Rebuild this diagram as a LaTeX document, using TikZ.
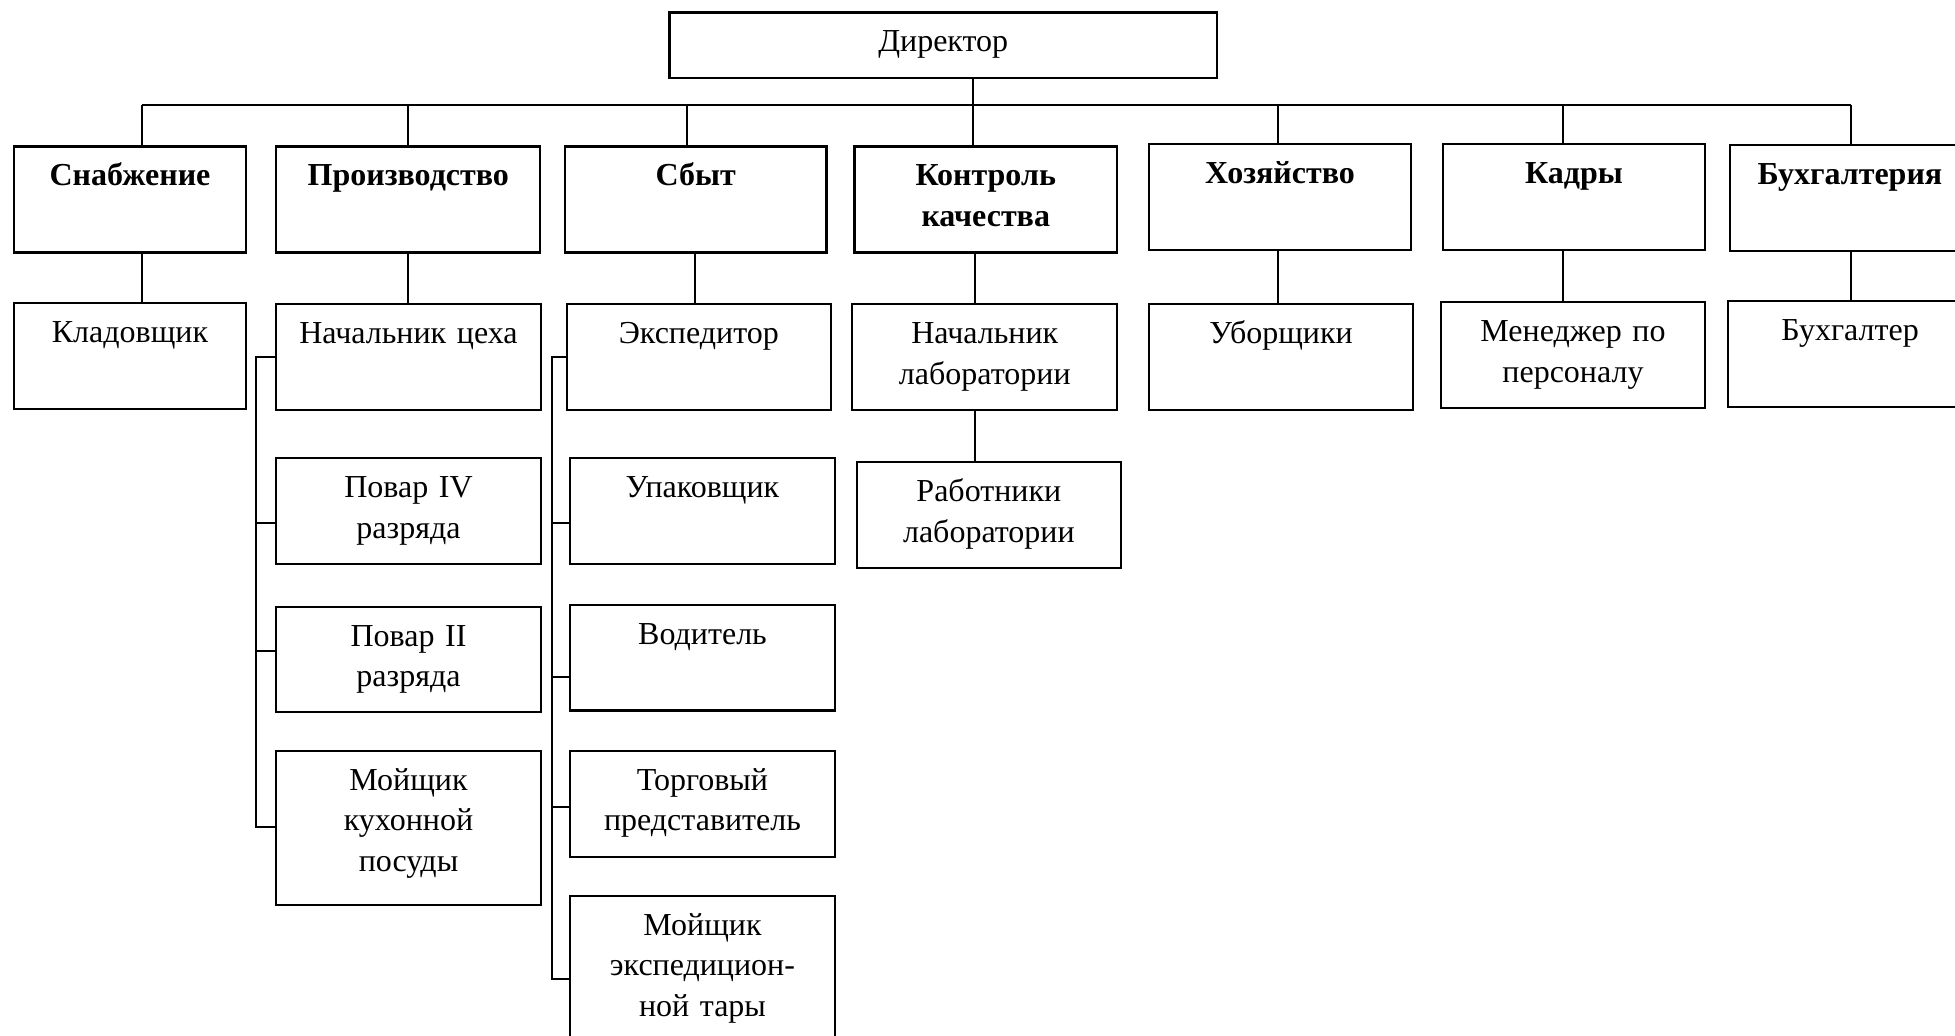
\documentclass[tikz,border=0pt]{standalone}
\usepackage{fontspec}
\setmainfont{Liberation Serif}
\usetikzlibrary{fit}

\begin{document}
\begin{tikzpicture}[x=1pt,y=-1pt,
	box/.style={draw, line width=2.2pt, inner sep=0pt},
	link/.style={line width=2pt},
	lbl/.style={anchor=base, align=center, inner sep=0pt, text width=240pt,
		font=\fontsize{32}{40.5}\selectfont},
	head/.style={lbl, font=\fontsize{32}{40.5}\selectfont\bfseries}]
	\useasboundingbox (0,0) rectangle (1955,1036);
	\clip (0,0) rectangle (1955,1036);

	\node[box, fit={(669.5,12.5) (1217,78)}] (dir) {};

	\node[box, fit={(13.7,146.5) (246.3,252.5)}] (snab) {};
	\node[box, fit={(276.3,146.5) (540.3,252.5)}] (proizv) {};
	\node[box, fit={(565,146.5) (826.5,252.5)}] (sbyt) {};
	\node[box, fit={(854.5,146.5) (1117,252.5)}] (kontrol) {};
	\node[box, fit={(1149,144.3) (1411,250.3)}] (khoz) {};
	\node[box, fit={(1442.7,144.3) (1705.3,250.3)}] (kadry) {};
	\node[box, fit={(1730,144.7) (1970,251)}] (bukh) {};

	\node[box, fit={(13.7,303) (246.3,409.3)}] (klad) {};
	\node[box, fit={(276.3,304.3) (540.7,410.3)}] (nachtseha) {};
	\node[box, fit={(566.7,304.3) (831,410.3)}] (eksp) {};
	\node[box, fit={(852.3,304.3) (1117.3,410.3)}] (nachlab) {};
	\node[box, fit={(1149,304.3) (1413,410.3)}] (uborsh) {};
	\node[box, fit={(1440.7,302.3) (1705.3,408.3)}] (menedzh) {};
	\node[box, fit={(1728.3,300.7) (1972,406.7)}] (buhg) {};

	\node[box, fit={(856.7,462.3) (1121,568.3)}] (rablab) {};

	\node[box, fit={(276.3,458.3) (540.7,564.3)}] (povar4) {};
	\node[box, fit={(276.3,606.7) (540.7,712.3)}] (povar2) {};
	\node[box, fit={(276.3,751) (540.7,905)}] (moysh1) {};

	\node[box, fit={(570.3,458.3) (834.7,564.3)}] (upak) {};
	\node[box, fit={(570.3,605) (834.7,710.5)}] (vodit) {};
	\node[box, fit={(570.3,751) (834.7,856.7)}] (torg) {};
	\node[box, fit={(570.3,895.7) (834.7,1100)}] (moysh2) {};

	\path
		([yshift=-40.5pt]dir.north)       node[lbl]  (dir-t) {Директор}
		([yshift=-40.5pt]snab.north)      node[head] (snab-t) {Снабжение}
		([yshift=-40.5pt]proizv.north)    node[head] (proizv-t) {Производство}
		([yshift=-40.5pt]sbyt.north)      node[head] (sbyt-t) {Сбыт}
		([yshift=-40.5pt]kontrol.north)   node[head] (kontrol-t) {Контроль\\качества}
		([yshift=-40.5pt]khoz.north)      node[head] (khoz-t) {Хозяйство}
		([yshift=-40.5pt]kadry.north)     node[head] (kadry-t) {Кадры}
		([yshift=-40.5pt]bukh.north)      node[head] (bukh-t) {Бухгалтерия}
		([yshift=-40.5pt]klad.north)      node[lbl]  (klad-t) {Кладовщик}
		([yshift=-40.5pt]nachtseha.north) node[lbl]  (nachtseha-t) {Начальник цеха}
		([yshift=-40.5pt]eksp.north)      node[lbl]  (eksp-t) {Экспедитор}
		([yshift=-40.5pt]nachlab.north)   node[lbl]  (nachlab-t) {Начальник\\лаборатории}
		([yshift=-40.5pt]uborsh.north)    node[lbl]  (uborsh-t) {Уборщики}
		([yshift=-40.5pt]menedzh.north)   node[lbl]  (menedzh-t) {Менеджер по\\персоналу}
		([yshift=-40.5pt]buhg.north)      node[lbl]  (buhg-t) {Бухгалтер}
		([yshift=-40.5pt]rablab.north)    node[lbl]  (rablab-t) {Работники\\лаборатории}
		([yshift=-40.5pt]povar4.north)    node[lbl]  (povar4-t) {Повар IV\\разряда}
		([yshift=-40.5pt]povar2.north)    node[lbl]  (povar2-t) {Повар II\\разряда}
		([yshift=-40.5pt]moysh1.north)    node[lbl]  (moysh1-t) {Мойщик\\кухонной\\посуды}
		([yshift=-40.5pt]upak.north)      node[lbl]  (upak-t) {Упаковщик}
		([yshift=-40.5pt]vodit.north)     node[lbl]  (vodit-t) {Водитель}
		([yshift=-40.5pt]torg.north)      node[lbl]  (torg-t) {Торговый\\представитель}
		([yshift=-40.5pt]moysh2.north)    node[lbl]  (moysh2-t) {Мойщик\\экспедицион-\\ной тары};

%	=======================================

	\coordinate (busL) at (142.3,105);
	\coordinate (busR) at (1850.7,105);
	\draw[link] (busL) -- (busR);
	\draw[link] (dir.south -| 972.5,0) -- (kontrol.north -| 972.5,0);

	\foreach \n/\x in {snab/142.3, proizv/408.3, sbyt/686.6, khoz/1278.3,
			kadry/1563, bukh/1850.7}
		\draw[link] (busL -| \x,0) -- (\n.north -| \x,0);

	\foreach \a/\b/\x in {snab/klad/142.3, proizv/nachtseha/408.3,
			sbyt/eksp/694.6, kontrol/nachlab/974.5, khoz/uborsh/1278.3,
			kadry/menedzh/1563, bukh/buhg/1850.7, nachlab/rablab/975}
		\draw[link] (\a.south -| \x,0) -- (\b.north -| \x,0);

%	=======================================

	\coordinate (pspine) at (256,827);
	\draw[link] (nachtseha.west) -| (pspine) -- (pspine -| moysh1.west);
	\foreach \n/\y in {povar4/522.7, povar2/651.3}
		\draw[link] (\n.west |- 0,\y) -- (pspine |- 0,\y);

	\coordinate (sspine) at (552.3,979.3);
	\draw[link] (eksp.west) -| (sspine) -- (sspine -| moysh2.west);
	\foreach \n/\y in {upak/522.7, vodit/677, torg/806.7}
		\draw[link] (\n.west |- 0,\y) -- (sspine |- 0,\y);
\end{tikzpicture}
\end{document}
